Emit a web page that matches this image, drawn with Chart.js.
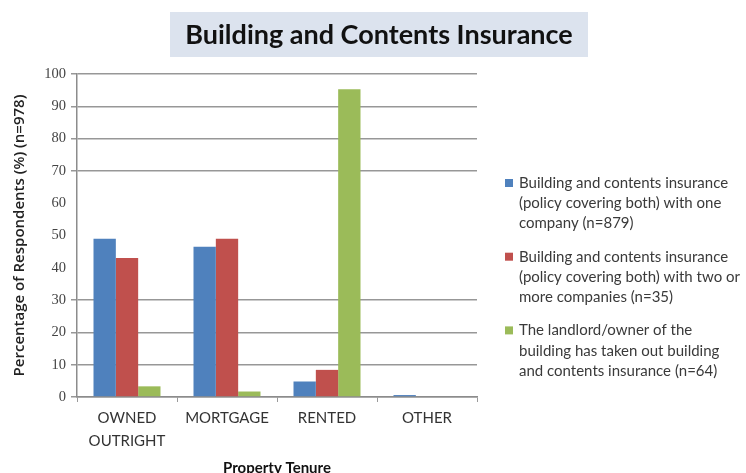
<!DOCTYPE html>
<html>
<head>
<meta charset="utf-8">
<script src="https://cdn.jsdelivr.net/npm/chart.js@4.4.1/dist/chart.umd.min.js"></script>
<style>
  html, body { margin: 0; padding: 0; background: #fff; }
  #wrap { position: relative; width: 746px; height: 473px; }
</style>
</head>
<body>
<div id="wrap"><canvas id="c" width="746" height="473"></canvas></div>
<script>
// Chart text
const chartTitle = 'Building and Contents Insurance';
const xAxisTitle = 'Property Tenure';
const yAxisTitle = 'Percentage of Respondents (%) (n=978)';

// Property tenure categories (multi-line labels as arrays)
const categories = [['OWNED', 'OUTRIGHT'], 'MORTGAGE', 'RENTED', 'OTHER'];

// Percentage of respondents per tenure
const oneCompany = [49, 46.5, 4.8, 0.6];
const twoOrMoreCompanies = [43, 49, 8.4, 0];
const landlordInsured = [3.3, 1.7, 95.3, 0];

// Legend text, one line per entry row
const oneCompanyLabel = ['Building and contents insurance', '(policy covering both) with one', 'company (n=879)'];
const twoOrMoreLabel = ['Building and contents insurance', '(policy covering both) with two or', 'more companies (n=35)'];
const landlordLabel = ['The landlord/owner of the', 'building has taken out building', 'and contents insurance (n=64)'];

// Y axis range and step
const yMin = 0, yMax = 100, yStep = 10;
// Gridlines left out of the drawing
const hiddenGridValues = [40, 50, 60];

const seriesColors = ['#4f81bd', '#c0504d', '#9bbb59'];

const titleBoxPlugin = {
  id: 'titleBox',
  beforeDraw(chart) {
    const ctx = chart.ctx;
    ctx.save();
    ctx.fillStyle = '#dce3ee';
    ctx.fillRect(170, 12, 418, 45);
    ctx.fillStyle = '#111';
    ctx.font = 'bold 27px Lato, "Liberation Sans", sans-serif';
    ctx.textAlign = 'center';
    ctx.textBaseline = 'middle';
    ctx.fillText(chartTitle, 379, 35, 402);
    ctx.restore();
  }
};

const sideLegendPlugin = {
  id: 'sideLegend',
  afterDraw(chart) {
    const ctx = chart.ctx;
    ctx.save();
    ctx.font = '15px Lato, "Liberation Sans", sans-serif';
    ctx.textBaseline = 'middle';
    ctx.textAlign = 'left';
    let y = 183;
    chart.data.datasets.forEach(ds => {
      ctx.fillStyle = ds.backgroundColor;
      ctx.fillRect(505, y - 4, 8, 8);
      ctx.fillStyle = '#3a3a3a';
      ds.legendLines.forEach((line, i) => {
        ctx.fillText(line, 519, y + i * 20.3);
      });
      y += 73.7;
    });
    ctx.restore();
  }
};

// Grid colour per tick: some rows are left blank
function gridColor(c) {
  const tick = c.tick;
  if (tick && hiddenGridValues.includes(Math.round(tick.value))) return 'rgba(255,255,255,0)';
  return '#979797';
}

new Chart(document.getElementById('c'), {
  type: 'bar',
  data: {
    labels: categories,
    datasets: [
      { label: oneCompanyLabel.join(' '), legendLines: oneCompanyLabel, data: oneCompany, backgroundColor: seriesColors[0] },
      { label: twoOrMoreLabel.join(' '), legendLines: twoOrMoreLabel, data: twoOrMoreCompanies, backgroundColor: seriesColors[1] },
      { label: landlordLabel.join(' '), legendLines: landlordLabel, data: landlordInsured, backgroundColor: seriesColors[2] }
    ]
  },
  options: {
    responsive: false,
    animation: false,
    events: [],
    layout: { padding: { top: 74, right: 269, left: 0, bottom: 0 } },
    datasets: { bar: { categoryPercentage: 0.67, barPercentage: 1.0 } },
    plugins: {
      legend: { display: false },
      title: { display: false },
      tooltip: { enabled: false }
    },
    scales: {
      x: {
        grid: { display: true, drawOnChartArea: false, offset: true, tickLength: 5, color: '#9a9a9a', lineWidth: 1 },
        border: { color: '#8c8c8c', width: 1.5 },
        ticks: {
          color: '#333',
          font: { family: 'Lato, "Liberation Sans", sans-serif', size: 15, lineHeight: 1.5 },
          padding: 5,
          maxRotation: 0,
          autoSkip: false
        },
        title: {
          display: true,
          text: xAxisTitle,
          color: '#111',
          font: { family: 'Lato, "Liberation Sans", sans-serif', size: 15, weight: 'bold' },
          padding: { top: 0, bottom: -4 }
        },
        afterFit(scale) { scale.height = 76; }
      },
      y: {
        min: yMin,
        max: yMax,
        ticks: {
          stepSize: yStep,
          color: '#444',
          font: { family: '"Liberation Serif", serif', size: 14.5 },
          padding: 5
        },
        grid: {
          tickLength: 6,
          lineWidth: 1.5,
          color: gridColor
        },
        border: { color: '#8c8c8c', width: 1.5 },
        title: {
          display: true,
          text: yAxisTitle,
          color: '#222',
          font: { family: '"Open Sans", Lato, sans-serif', size: 15, weight: '600' },
          padding: { top: 11 }
        },
        afterFit(scale) { scale.width = 77; }
      }
    }
  },
  plugins: [titleBoxPlugin, sideLegendPlugin]
});
</script>
</body>
</html>
